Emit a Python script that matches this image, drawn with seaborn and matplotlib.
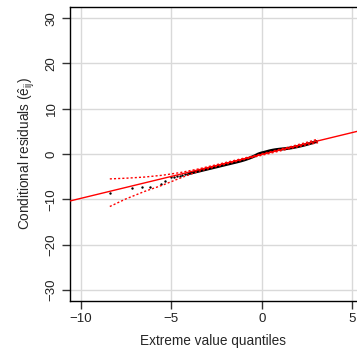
import numpy as np
import seaborn as sns
import matplotlib.pyplot as plt

# extreme value (Gumbel) quantiles vs conditional residuals
tail_x = [-8.4, -7.2, -6.6, -6.2, -5.6, -5.35, -5.0, -4.85, -4.7, -4.55, -4.4, -4.25, -4.12]
tail_y = [-8.6, -7.5, -7.2, -7.2, -6.6, -5.9, -5.0, -5.0, -4.9, -4.8, -4.65, -4.5, -4.4]

body_x = [-4.0, -3.9, -3.8, -3.7, -3.6, -3.5, -3.4, -3.3, -3.2, -3.1,
          -3.0, -2.9, -2.8, -2.7, -2.6, -2.5, -2.4, -2.3, -2.2, -2.1,
          -2.0, -1.9, -1.8, -1.7, -1.6, -1.5, -1.4, -1.3, -1.2, -1.1,
          -1.0, -0.9, -0.8, -0.7, -0.6, -0.5, -0.4, -0.3, -0.2, -0.1,
          0.0, 0.1, 0.2, 0.3, 0.4, 0.5, 0.6, 0.7, 0.8, 0.9,
          1.0, 1.1, 1.2, 1.3, 1.4, 1.5, 1.6, 1.7, 1.8, 1.9,
          2.0, 2.1, 2.2, 2.3, 2.4, 2.5, 2.6, 2.7, 2.8, 2.9, 3.0]
body_y = [-4.28, -4.18, -4.09, -3.99, -3.89, -3.80, -3.70, -3.60, -3.50, -3.41,
          -3.31, -3.21, -3.12, -3.02, -2.92, -2.83, -2.73, -2.63, -2.53, -2.44,
          -2.34, -2.24, -2.15, -2.05, -1.95, -1.86, -1.76, -1.66, -1.56, -1.45,
          -1.33, -1.20, -1.06, -0.92, -0.76, -0.60, -0.42, -0.22, -0.02, 0.12,
          0.24, 0.33, 0.44, 0.55, 0.66, 0.75, 0.83, 0.90, 0.96, 1.01,
          1.06, 1.10, 1.14, 1.18, 1.23, 1.29, 1.35, 1.42, 1.50, 1.58,
          1.66, 1.75, 1.84, 1.94, 2.04, 2.15, 2.26, 2.38, 2.50, 2.62, 2.75]

# reference line
line_x = [-10.6, 5.25]
line_y = [-10.38, 4.99]

# pointwise envelope
env_x = [-8.4, -7.5, -6.5, -5.5, -4.5, -3.5, -2.5, -1.5, -0.5, 0.5, 1.5, 2.5, 3.1]
env_upper = [-5.5, -5.35, -5.1, -4.7, -4.1, -3.3, -2.35, -1.4, -0.45, 0.55, 1.55, 2.6, 3.3]
env_lower = [-11.6, -9.9, -8.3, -6.9, -5.3, -3.8, -2.75, -1.75, -0.75, 0.2, 1.15, 2.05, 2.5]

sns.set_style("whitegrid")
plt.rcParams['font.family'] = ['Liberation Sans', 'DejaVu Sans']
plt.rcParams['mathtext.fontset'] = 'custom'
plt.rcParams['mathtext.rm'] = 'Liberation Sans'
plt.rcParams['mathtext.it'] = 'Liberation Sans'

fig = plt.figure(figsize=(3.57, 3.54), dpi=100)
ax = fig.add_axes([0.196, 0.150, 0.804, 0.830])

ax.grid(True, color='#d9d9d9', linewidth=1.0)

# sparse tail: tiny dots; dense body: thick band
sns.scatterplot(x=tail_x, y=tail_y, ax=ax, color='black', s=3, linewidth=0, zorder=3)
sns.lineplot(x=body_x, y=body_y, ax=ax, color='black', linewidth=2.2, zorder=3)

sns.lineplot(x=line_x, y=line_y, ax=ax, color='red', linewidth=1.0, zorder=4)
sns.lineplot(x=env_x, y=env_upper, ax=ax, color='red', linewidth=1.0,
             linestyle=(0, (1.5, 1.5)), zorder=4)
sns.lineplot(x=env_x, y=env_lower, ax=ax, color='red', linewidth=1.0,
             linestyle=(0, (1.5, 1.5)), zorder=4)

ax.set_xlim(-10.6, 5.25)
ax.set_ylim(-32.45, 32.45)
ax.set_xticks([-10, -5, 0, 5])
ax.set_xticklabels(['\u221210', '\u22125', '0', '5'])
ax.set_yticks([-30, -20, -10, 0, 10, 20, 30])
ax.set_yticklabels(['\u221230', '\u221220', '\u221210', '0', '10', '20', '30'],
                   rotation=90, va='center')

for side in ['left', 'bottom', 'top']:
    ax.spines[side].set_visible(True)
    ax.spines[side].set_color('black')
    ax.spines[side].set_linewidth(1.0)
ax.spines['right'].set_visible(False)

ax.tick_params(axis='both', which='major', direction='out', length=6, width=1,
               color='#333333', labelsize=9.5, labelcolor='#222222', pad=3)
ax.tick_params(axis='x', bottom=True)
ax.tick_params(axis='y', left=True)

ax.set_xlabel('Extreme value quantiles', fontsize=9.8, labelpad=6)
ax.set_ylabel(r'Conditional residuals ($\mathrm{\hat{e}_{ij}}$)', fontsize=9.8, labelpad=6)

fig.savefig('out.png', dpi=100)
